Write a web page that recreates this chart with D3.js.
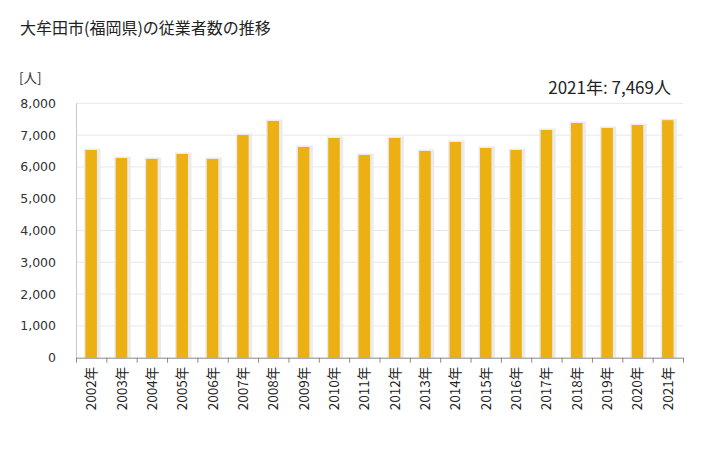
<!DOCTYPE html>
<html><head><meta charset="utf-8">
<script src="https://cdn.jsdelivr.net/npm/d3@7"></script>
<style>body{margin:0;background:#fff;font-family:"Noto Sans CJK JP","Noto Sans",sans-serif;}</style>
</head><body><svg id="c" width="728" height="450"></svg>
<script>
const years = ["2002","2003","2004","2005","2006","2007","2008","2009","2010","2011","2012","2013","2014","2015","2016","2017","2018","2019","2020","2021"];
const values = [6531,6280,6250,6405,6250,7003,7443,6626,6909,6374,6909,6500,6783,6594,6531,7160,7380,7223,7317,7469];
const yTicks = [0,1000,2000,3000,4000,5000,6000,7000,8000];
const title = "大牟田市(福岡県)の従業者数の推移";
const unit = "[人]";
const note = "2021年: 7,469人";

const svg = d3.select("#c");
const m = {l:76, r:683, t:103.3, b:357.7};
const x = d3.scaleBand().domain(years).range([m.l, m.r]).padding(0);
const y = d3.scaleLinear().domain([0,8000]).range([m.b, m.t]);
const font = "'Noto Sans CJK JP', sans-serif";

svg.append("text").attr("x",20).attr("y",34).attr("font-size",16).attr("fill","#222").attr("font-family",font).text(title);
svg.append("text").attr("x",19).attr("y",83).attr("font-size",13.5).attr("fill","#333").attr("font-family",font).text(unit);
svg.append("text").attr("x",671).attr("y",94).attr("text-anchor","end").attr("font-size",17).attr("fill","#222").attr("font-family",font).text(note);

// gridlines
svg.append("g").selectAll("line").data(yTicks.filter(d=>d>0)).join("line")
  .attr("x1",m.l).attr("x2",m.r).attr("y1",d=>y(d)).attr("y2",d=>y(d))
  .attr("stroke","#e8e8e8").attr("stroke-width",1);

// y labels
svg.append("g").selectAll("text").data(yTicks).join("text")
  .attr("x",56).attr("y",d=>y(d)+4.5).attr("text-anchor","end")
  .attr("fill","#333").attr("font-family","'DejaVu Sans', sans-serif")
  .attr("style","font-size:12.5px")
  .text(d=>d3.format(",")(d));

// y axis line
svg.append("line").attr("x1",m.l+0.5).attr("x2",m.l+0.5).attr("y1",m.t).attr("y2",m.b)
  .attr("stroke","#c8c8c8").attr("stroke-width",1);

const bw = 11.5;
// shadows
svg.append("g").selectAll("rect").data(values).join("rect")
  .attr("x",(d,i)=>x(years[i])+x.bandwidth()/2-bw/2-1.5)
  .attr("y",d=>y(d)-1.5)
  .attr("width",bw+5).attr("height",d=>m.b-y(d)+1.5)
  .attr("fill","#ebebeb");
// bars
svg.append("g").selectAll("rect").data(values).join("rect")
  .attr("x",(d,i)=>x(years[i])+x.bandwidth()/2-bw/2)
  .attr("y",d=>y(d))
  .attr("width",bw).attr("height",d=>m.b-y(d))
  .attr("fill","#EDB013");

// x axis
svg.append("line").attr("x1",m.l).attr("x2",m.r).attr("y1",m.b+0.5).attr("y2",m.b+0.5).attr("stroke","#888");
const bounds = years.map(d=>x(d)).concat([m.r]);
svg.append("g").selectAll("line").data(bounds).join("line")
  .attr("x1",d=>d+0.5).attr("x2",d=>d+0.5).attr("y1",m.b).attr("y2",m.b+5)
  .attr("stroke","#888");

svg.append("g").selectAll("text").data(years).join("text")
  .attr("transform",d=>`translate(${x(d)+x.bandwidth()/2+5},${m.b+9}) rotate(-90)`)
  .attr("text-anchor","end").attr("font-size",13.5).attr("fill","#222").attr("font-family",font)
  .text(d=>d+"年");
</script></body></html>
